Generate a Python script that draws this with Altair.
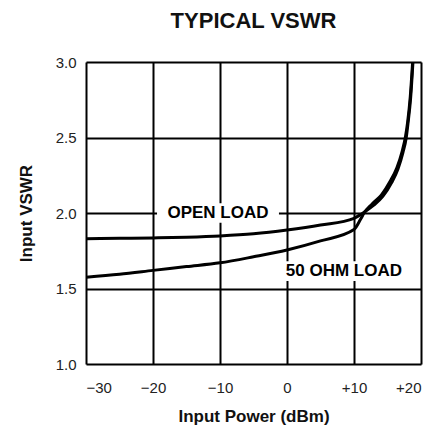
import altair as alt
import pandas as pd

# Open load curve
open_x = [-30, -25, -20, -15, -10, -5, 0, 5, 10, 11, 11.5, 12.9, 14.3, 15.6, 16.55, 17.3, 17.8, 18.05, 18.45, 18.8]
open_y = [1.83, 1.832, 1.835, 1.84, 1.848, 1.862, 1.887, 1.92, 1.965, 1.99, 2.005, 2.05, 2.11, 2.2, 2.29, 2.4, 2.5, 2.59, 2.76, 3.0]
# 50 ohm load curve
ohm_x = [-30, -25, -20, -15, -10, -5, 0, 5, 10, 11, 11.5, 12.7, 14.1, 15.4, 16.4, 17.2, 17.7, 18.0, 18.4, 18.75]
ohm_y = [1.575, 1.595, 1.62, 1.645, 1.67, 1.71, 1.755, 1.815, 1.89, 1.96, 2.0, 2.06, 2.12, 2.21, 2.3, 2.41, 2.51, 2.6, 2.77, 3.0]

label_text = ["OPEN LOAD", "50 OHM LOAD"]
label_x = [-10.3, 8.5]
label_y = [2.0, 1.615]
label_halfwidth = [9.1, 9.9]   # in dBm units (white gap behind labels)
label_halfheight = [0.065, 0.065]

x_ticks = [-30, -20, -10, 0, 10, 20]
y_ticks = [1.0, 1.5, 2.0, 2.5, 3.0]

FONT = "Liberation Sans"

curves = pd.concat([
    pd.DataFrame({"x": open_x, "y": open_y, "load": "open"}),
    pd.DataFrame({"x": ohm_x, "y": ohm_y, "load": "50ohm"}),
])
labels = pd.DataFrame({"text": label_text, "x": label_x, "y": label_y})
labels["x0"] = [a - b for a, b in zip(label_x, label_halfwidth)]
labels["x1"] = [a + b for a, b in zip(label_x, label_halfwidth)]
labels["y0"] = [a - b for a, b in zip(label_y, label_halfheight)]
labels["y1"] = [a + b for a, b in zip(label_y, label_halfheight)]

xscale = alt.Scale(domain=[-30, 20], nice=False, zero=False)
yscale = alt.Scale(domain=[1.0, 3.0], nice=False, zero=False)

xaxis = alt.Axis(values=x_ticks, title="Input Power (dBm)", grid=True, gridColor="black",
                 gridWidth=2, gridOpacity=1, ticks=False, domain=False,
                 labelExpr="datum.value > 0 ? '+' + datum.label : datum.label",
                 labelFont=FONT, labelFontSize=15, labelColor="#222", labelPadding=16,
                 titleFont=FONT, titleFontSize=17, titleFontWeight="bold", titleColor="#111",
                 titlePadding=13)
yaxis = alt.Axis(values=y_ticks, title="Input VSWR", format=".1f", grid=True, gridColor="black",
                 gridWidth=2, gridOpacity=1, ticks=False, domain=False,
                 labelFont=FONT, labelFontSize=15, labelColor="#222", labelPadding=10,
                 titleFont=FONT, titleFontSize=17, titleFontWeight="bold", titleColor="#111",
                 titlePadding=20)

lines = alt.Chart(curves).mark_line(color="black", strokeWidth=3, interpolate="monotone", clip=True).encode(
    x=alt.X("x:Q", scale=xscale, axis=xaxis),
    y=alt.Y("y:Q", scale=yscale, axis=yaxis),
    detail="load:N",
)

bgs = alt.Chart(labels).mark_rect(color="white").encode(
    x=alt.X("x0:Q", scale=xscale),
    x2="x1:Q",
    y=alt.Y("y0:Q", scale=yscale),
    y2="y1:Q",
)

texts = alt.Chart(labels).mark_text(font=FONT, fontSize=17, fontWeight="bold", color="black",
                                    align="center", baseline="middle").encode(
    x=alt.X("x:Q", scale=xscale),
    y=alt.Y("y:Q", scale=yscale),
    text="text:N",
)

chart = alt.layer(lines, bgs, texts).properties(
    width=335, height=302,
    title=alt.TitleParams("TYPICAL VSWR", font=FONT, fontSize=22, fontWeight="bold",
                          color="#111", anchor="middle", baseline="alphabetic", offset=5),
    autosize=alt.AutoSizeParams(type="none"),
    padding={"left": 78, "top": 54, "right": 3, "bottom": 63},
).configure_view(stroke="black", strokeWidth=3).configure(background="white")

chart.save("out.html", embed_options={"renderer": "svg", "actions": False})
